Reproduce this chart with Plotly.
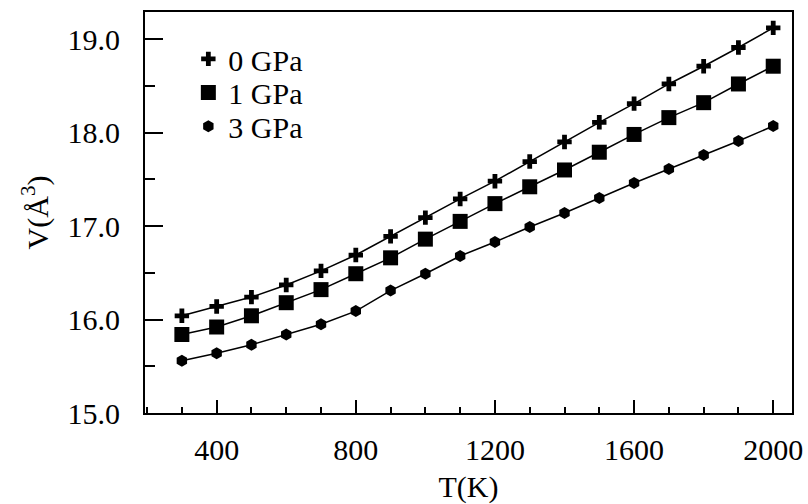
import plotly.graph_objects as go

T = [300, 400, 500, 600, 700, 800, 900, 1000, 1100, 1200, 1300, 1400, 1500, 1600, 1700, 1800, 1900, 2000]
V_0GPa = [16.04, 16.14, 16.24, 16.37, 16.52, 16.69, 16.89, 17.09, 17.29, 17.48, 17.69, 17.90, 18.11, 18.31, 18.52, 18.71, 18.91, 19.12]
V_1GPa = [15.84, 15.92, 16.04, 16.18, 16.32, 16.49, 16.66, 16.86, 17.05, 17.24, 17.42, 17.60, 17.79, 17.98, 18.16, 18.32, 18.52, 18.71]
V_3GPa = [15.56, 15.64, 15.73, 15.84, 15.95, 16.09, 16.31, 16.49, 16.68, 16.83, 16.99, 17.14, 17.30, 17.46, 17.61, 17.76, 17.91, 18.07]
series_names = ["0 GPa", "1 GPa", "3 GPa"]

FONT = "Liberation Serif, Times New Roman, serif"
BLACK = "#000000"

fig = go.Figure()
specs = [
    (V_0GPa, "cross", 12, "legend"),
    (V_1GPa, "square", 15, "legend2"),
    (V_3GPa, "hexagon", 12, "legend3"),
]
for name, (vals, sym, sz, lg) in zip(series_names, specs):
    # connecting line (not in legend)
    fig.add_trace(go.Scatter(
        x=T, y=vals, name=name, mode="lines", showlegend=False,
        line=dict(color=BLACK, width=1.5), hoverinfo="skip",
    ))
    # markers (shown in legend, symbol only)
    fig.add_trace(go.Scatter(
        x=T, y=vals, name=name, mode="markers", showlegend=True,
        marker=dict(symbol=sym, size=sz, color=BLACK, line=dict(width=0)),
        legend=lg,
    ))

leg_common = dict(font=dict(family=FONT, size=30, color=BLACK), bgcolor="rgba(0,0,0,0)",
                  borderwidth=0, xanchor="left", yanchor="middle", x=0.067, visible=True)

fig.update_layout(
    width=808, height=504,
    showlegend=True,
    margin=dict(l=145, r=16, t=12, b=91),
    paper_bgcolor="white", plot_bgcolor="white",
    font=dict(family=FONT, size=30, color=BLACK),
    legend=dict(**leg_common, y=0.883),
    legend2=dict(**leg_common, y=0.7995),
    legend3=dict(**leg_common, y=0.715),
    xaxis=dict(
        range=[194, 2054], tick0=0, dtick=400, ticks="inside", ticklen=13, tickwidth=2,
        tickcolor=BLACK, showline=True, linecolor=BLACK, linewidth=2, mirror=True,
        showgrid=False, zeroline=False, tickfont=dict(family=FONT, size=30, color=BLACK),
        ticklabelstandoff=9,
        minor=dict(dtick=100, tick0=0, ticks="inside", ticklen=6, tickwidth=2, tickcolor=BLACK, showgrid=False),
        title=dict(text="T(K)", font=dict(family=FONT, size=30, color=BLACK), standoff=21),
        automargin=False,
    ),
    yaxis=dict(
        range=[15.0, 19.29], tick0=15, dtick=1, ticks="inside", ticklen=18, tickwidth=2,
        tickcolor=BLACK, showline=True, linecolor=BLACK, linewidth=2, mirror=True,
        showgrid=False, zeroline=False, tickformat=".1f",
        tickfont=dict(family=FONT, size=30, color=BLACK), ticklabelstandoff=17,
        minor=dict(dtick=0.5, tick0=15, ticks="inside", ticklen=10, tickwidth=2, tickcolor=BLACK, showgrid=False),
        title=dict(text="V(Å<sup>3</sup>)", font=dict(family=FONT, size=30, color=BLACK), standoff=10),
        automargin=False,
    ),
)

fig.write_html("out.html")
